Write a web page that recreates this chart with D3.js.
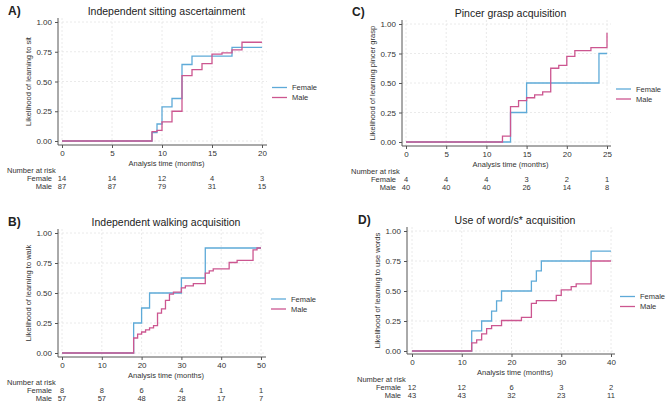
<!DOCTYPE html>
<html>
<head>
<meta charset="utf-8">
<script src="https://cdn.jsdelivr.net/npm/d3@7.9.0/dist/d3.min.js"></script>
<style>
  body { margin: 0; background: #fff; }
  svg { display: block; font-family: "Liberation Sans", Arial, sans-serif; }
  .grid line { stroke: #e4e4e4; stroke-dasharray: 2,2; stroke-width: 0.8; }
</style>
</head>
<body>
<svg id="chart" width="669" height="403"></svg>
<script>
// Kaplan-Meier step data: [time in months, cumulative likelihood]
const sexes = ['Female', 'Male'];
const sexColors = ['#5eaad8', '#cc5690'];

// A) sitting
const sitFemale = [[0,0],[9,0.071],[9.5,0.143],[10,0.286],[11,0.357],[12,0.643],[13,0.714],[17,0.786],[20,0.786]];
const sitMale = [[0,0],[9,0.078],[9.5,0.09],[10,0.16],[11,0.25],[12,0.55],[13,0.60],[14,0.65],[15,0.73],[16,0.74],[17,0.765],[18,0.83],[20,0.83]];
const sitTicks = [0, 5, 10, 15, 20];
const sitRiskFemale = [14, 14, 12, 4, 3];
const sitRiskMale = [87, 87, 79, 31, 15];

// B) walking
const walkFemale = [[0,0],[18,0.25],[20,0.375],[22,0.5],[30,0.625],[36,0.875],[50,0.875]];
const walkMale = [[0,0],[18,0.125],[19,0.158],[20,0.175],[21,0.193],[22,0.21],[23,0.228],[24,0.333],[25,0.368],[26,0.438],[27,0.49],[28,0.508],[30,0.543],[31,0.56],[33,0.578],[36,0.666],[37,0.684],[38,0.701],[42,0.754],[44,0.772],[48,0.86],[49,0.875],[50,0.875]];
const walkTicks = [0, 10, 20, 30, 40, 50];
const walkRiskFemale = [8, 8, 6, 4, 1, 1];
const walkRiskMale = [57, 57, 48, 28, 17, 7];

// C) pincer grasp
const pincerFemale = [[0,0],[13,0.25],[15,0.5],[24,0.75],[25,0.75]];
const pincerMale = [[0,0],[12,0.05],[13,0.30],[14,0.35],[15,0.375],[16,0.40],[17,0.425],[18,0.625],[19,0.65],[20,0.725],[21,0.775],[23,0.80],[25,0.80],[25,0.925]];
const pincerTicks = [0, 5, 10, 15, 20, 25];
const pincerRiskFemale = [4, 4, 4, 3, 2, 1];
const pincerRiskMale = [40, 40, 40, 26, 14, 8];

// D) words
const wordFemale = [[0,0],[12,0.167],[14,0.25],[16,0.333],[17,0.417],[18,0.5],[24,0.583],[25,0.667],[26,0.75],[36,0.833],[40,0.833]];
const wordMale = [[0,0],[12,0.067],[13,0.092],[14,0.142],[15,0.187],[16,0.212],[18,0.254],[22,0.28],[24,0.397],[25,0.42],[29,0.464],[30,0.51],[32,0.536],[33,0.56],[36,0.75],[40,0.75]];
const wordTicks = [0, 10, 20, 30, 40];
const wordRiskFemale = [12, 12, 6, 3, 2];
const wordRiskMale = [43, 43, 32, 23, 11];

const yTicks = [0, 0.25, 0.5, 0.75, 1];

const panels = [
  { letter: 'A)', title: 'Independent sitting ascertainment', ylab: 'Likelihood of learning to sit',
    series: [sitFemale, sitMale], ticks: sitTicks, risk: [sitRiskFemale, sitRiskMale],
    x0: 62, x1: 262, y0: 141, y1: 22, box: [58, 18, 267, 145], ox: 0, oy: 0 },
  { letter: 'B)', title: 'Independent walking acquisition', ylab: 'Likelihood of learning to walk',
    series: [walkFemale, walkMale], ticks: walkTicks, risk: [walkRiskFemale, walkRiskMale],
    x0: 62, x1: 261, y0: 353, y1: 233, box: [58, 229, 266, 357], ox: 0, oy: 211 },
  { letter: 'C)', title: 'Pincer grasp acquisition', ylab: 'Likelihood of learning pincer grasp',
    series: [pincerFemale, pincerMale], ticks: pincerTicks, risk: [pincerRiskFemale, pincerRiskMale],
    x0: 406, x1: 607, y0: 142, y1: 24, box: [402, 20, 611, 146], ox: 344, oy: 1 },
  { letter: 'D)', title: 'Use of word/s* acquisition', ylab: 'Likelihood of learning to use words',
    series: [wordFemale, wordMale], ticks: wordTicks, risk: [wordRiskFemale, wordRiskMale],
    x0: 412, x1: 611, y0: 351, y1: 231, box: [407, 227, 615, 354], ox: 350, oy: 209 }
];

const svg = d3.select('#chart');

function drawPanel(p) {
  const g = svg.append('g');
  const xMax = p.ticks[p.ticks.length - 1];
  const x = d3.scaleLinear().domain([0, xMax]).range([p.x0, p.x1]);
  const y = d3.scaleLinear().domain([0, 1]).range([p.y0, p.y1]);
  const [bl, bt, br, bb] = p.box;
  const midX = (bl + br) / 2 + 4;

  // Grid lines
  const grid = g.append('g').attr('class', 'grid');
  grid.selectAll('.gy').data(yTicks).enter().append('line')
    .attr('x1', bl).attr('x2', br).attr('y1', d => y(d)).attr('y2', d => y(d));
  grid.selectAll('.gx').data(p.ticks).enter().append('line')
    .attr('y1', bt).attr('y2', bb).attr('x1', d => x(d)).attr('x2', d => x(d));

  // Axes
  const yAxis = g.append('g').attr('transform', `translate(${bl},0)`)
    .call(d3.axisLeft(y).tickValues(yTicks).tickFormat(d3.format('.2f')).tickSize(3).tickPadding(3));
  const xAxis = g.append('g').attr('transform', `translate(0,${bb})`)
    .call(d3.axisBottom(x).tickValues(p.ticks).tickFormat(d3.format('d')).tickSize(3).tickPadding(2));
  [yAxis, xAxis].forEach(a => {
    a.select('.domain').remove();
    a.selectAll('line').attr('stroke', '#555');
    a.selectAll('text').attr('font-size', 8).attr('fill', '#333');
    a.attr('font-family', null);
  });
  g.append('line').attr('x1', bl).attr('x2', bl).attr('y1', bt).attr('y2', bb).attr('stroke', '#555');
  g.append('line').attr('x1', bl).attr('x2', br).attr('y1', bb).attr('y2', bb).attr('stroke', '#555');

  // Step curves
  const line = d3.line().x(d => x(d[0])).y(d => y(d[1])).curve(d3.curveStepAfter);
  p.series.forEach((s, i) => {
    g.append('path').datum(s).attr('d', line)
      .attr('fill', 'none').attr('stroke', sexColors[i]).attr('stroke-width', 1.3);
  });

  // Titles
  g.append('text').attr('x', p.ox + 8).attr('y', p.oy + 14.5)
    .attr('font-size', 12).attr('font-weight', 'bold').attr('fill', '#222').text(p.letter);
  g.append('text').attr('x', midX).attr('y', bt - 3.5).attr('text-anchor', 'middle')
    .attr('font-size', 10.5).attr('fill', '#222').text(p.title);
  g.append('text').attr('x', midX).attr('y', bb + 20.5).attr('text-anchor', 'middle')
    .attr('font-size', 7.5).attr('fill', '#333').text('Analysis time (months)');
  g.append('text')
    .attr('transform', `translate(${bl - 27},${(bt + bb) / 2}) rotate(-90)`)
    .attr('text-anchor', 'middle').attr('font-size', 7.5).attr('fill', '#333').text(p.ylab);

  // Legend
  sexes.forEach((s, i) => {
    const ly = (bt + bb) / 2 + 6 + i * 10;
    g.append('line').attr('x1', br + 5).attr('x2', br + 20).attr('y1', ly).attr('y2', ly)
      .attr('stroke', sexColors[i]).attr('stroke-width', 1.3);
    g.append('text').attr('x', br + 25).attr('y', ly + 2.5)
      .attr('font-size', 7.5).attr('fill', '#333').text(s);
  });

  // Number at risk table
  const ry = bb + 28;
  g.append('text').attr('x', p.ox + 7).attr('y', ry).attr('font-size', 7.5).attr('fill', '#333').text('Number at risk');
  sexes.forEach((s, i) => {
    const rowY = ry + 8 + i * 7.5;
    g.append('text').attr('x', bl - 6).attr('y', rowY).attr('text-anchor', 'end')
      .attr('font-size', 7.5).attr('fill', '#333').text(s);
    g.selectAll(null).data(p.risk[i]).enter().append('text')
      .attr('x', (d, k) => x(p.ticks[k])).attr('y', rowY).attr('text-anchor', 'middle')
      .attr('font-size', 7.5).attr('fill', '#333').text(d => d);
  });
}

panels.forEach(drawPanel);
</script>
</body>
</html>
